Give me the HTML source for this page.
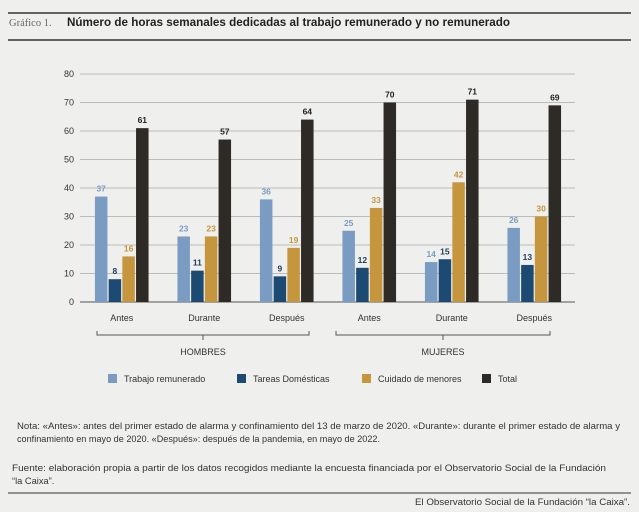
<!DOCTYPE html>
<html><head><meta charset="utf-8"><style>
body{margin:0;background:#efefed;font-family:"Liberation Sans",sans-serif;}
svg{display:block}
</style></head><body>
<svg width="639" height="512" viewBox="0 0 639 512">
<rect width="639" height="512" fill="#efefed"/>
<line x1="8" y1="13" x2="631" y2="13" stroke="#333" stroke-width="1.5"/>
<text x="9" y="26" font-family="Liberation Serif,serif" font-size="10.5" fill="#666">Gráfico 1.</text>
<text x="67" y="26" font-size="11.5" font-weight="bold" fill="#222" textLength="443" lengthAdjust="spacingAndGlyphs">Número de horas semanales dedicadas al trabajo remunerado y no remunerado</text>
<line x1="8" y1="40" x2="631" y2="40" stroke="#333" stroke-width="1.5"/>
<g id="plot"></g>
<g font-size="9" fill="#333">
<path d="M97 331 V335 H309 V331 M203 335 V340" fill="none" stroke="#555"/>
<text x="203" y="355" text-anchor="middle">HOMBRES</text>
<path d="M336 331 V335 H550 V331 M443 335 V340" fill="none" stroke="#555"/>
<text x="443" y="355" text-anchor="middle">MUJERES</text>
</g>
<g font-size="9" fill="#333">
<rect x="108" y="374" width="9" height="9" fill="#7a9cc2"/><text x="124" y="382">Trabajo remunerado</text>
<rect x="237" y="374" width="9" height="9" fill="#1d4a72"/><text x="253" y="382">Tareas Domésticas</text>
<rect x="362" y="374" width="9" height="9" fill="#c6963e"/><text x="378" y="382">Cuidado de menores</text>
<rect x="482" y="374" width="9" height="9" fill="#2e2b27"/><text x="498" y="382">Total</text>
</g>
<g font-size="9.3" fill="#333">
<text x="17" y="429" textLength="603" lengthAdjust="spacingAndGlyphs">Nota: «Antes»: antes del primer estado de alarma y confinamiento del 13 de marzo de 2020. «Durante»: durante el primer estado de alarma y</text>
<text x="17" y="442" textLength="363" lengthAdjust="spacingAndGlyphs">confinamiento en mayo de 2020. «Después»: después de la pandemia, en mayo de 2022.</text>
<text x="12" y="471" textLength="594" lengthAdjust="spacingAndGlyphs">Fuente: elaboración propia a partir de los datos recogidos mediante la encuesta financiada por el Observatorio Social de la Fundación</text>
<text x="12" y="484">“la Caixa”.</text>
</g>
<line x1="8" y1="493" x2="631" y2="493" stroke="#333" stroke-width="1"/>
<text x="630" y="505" font-size="9" fill="#333" text-anchor="end" textLength="215" lengthAdjust="spacingAndGlyphs">El Observatorio Social de la Fundación “la Caixa”.</text>
</svg>
<script>
const categories=["Antes","Durante","Después","Antes","Durante","Después"];
const trabajo=[37,23,36,25,14,26];
const tareas=[8,11,9,12,15,13];
const cuidado=[16,23,19,33,42,30];
const total=[61,57,64,70,71,69];
const yTicks=[0,10,20,30,40,50,60,70,80];
const series=[{n:"trabajo",v:trabajo,c:"#7a9cc2",t:"#7a9cc2"},{n:"tareas",v:tareas,c:"#1d4a72",t:"#1d3f60"},{n:"cuidado",v:cuidado,c:"#c6963e",t:"#c6963e"},{n:"total",v:total,c:"#2e2b27",t:"#222"}];
const NS="http://www.w3.org/2000/svg";
const g=document.getElementById('plot');
const x0=80,x1=575,yB=302,yT=74;
const y=v=>yB-(v-0)/80*(yB-yT);
const gw=(x1-x0)/categories.length;
const cx=i=>x0+gw*(i+0.5)+0.5;
function mk(t,a){const e=document.createElementNS(NS,t);for(const k in a)e.setAttribute(k,a[k]);g.appendChild(e);return e;}
yTicks.forEach(v=>{
 const l=mk('line',{x1:x0,x2:x1,y1:y(v),y2:y(v),stroke:v===0?'#888':'#bbb','stroke-width':v===0?1.5:1});
 
 
 const t=mk('text',{x:74,y:y(v)+3,'text-anchor':'end','font-size':9,fill:'#333'});t.textContent=v;
 
 
});
const bw=12.5,step=13.7;
categories.forEach((c,i)=>{
 series.forEach((s,j)=>{
  const bx=cx(i)+(j-2)*step+0.6;
  const v=s.v[i];
  const r=mk('rect',{x:bx,y:y(v),width:bw,height:yB-y(v),fill:s.c});
  
  
  const t=mk('text',{x:bx+bw/2,y:y(v)-5,'text-anchor':'middle','font-size':8.5,'font-weight':'bold',fill:s.t});t.textContent=v;
  
  
 });
 const t=mk('text',{x:cx(i),y:321,'text-anchor':'middle','font-size':9,fill:'#333'});t.textContent=c;
 
 
});
</script>
</body></html>
